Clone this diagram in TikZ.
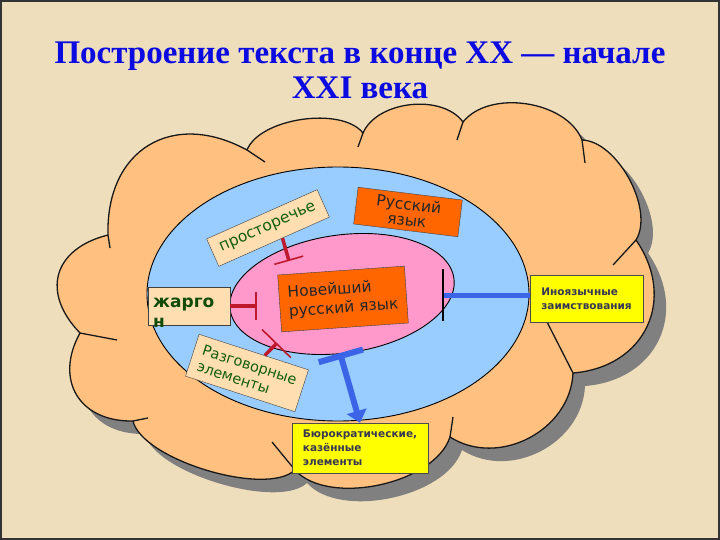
\documentclass[tikz,border=0pt]{standalone}
\usepackage{fontspec}
\setmainfont{DejaVu Sans}
\newfontfamily\titlefont{Liberation Serif}
\usetikzlibrary{shapes.geometric,arrows.meta,calc}
\definecolor{slidebg}{RGB}{239,222,188}
\definecolor{cloudfill}{RGB}{255,192,128}
\definecolor{skyblue}{RGB}{153,204,255}
\definecolor{rosepink}{RGB}{255,153,204}
\definecolor{lexorange}{RGB}{255,102,0}
\definecolor{boxpeach}{RGB}{255,222,178}
\definecolor{boxgreen}{RGB}{20,95,10}
\definecolor{noteyellow}{RGB}{255,255,0}
\definecolor{notetext}{RGB}{55,55,85}
\definecolor{teered}{RGB}{190,25,45}
\definecolor{teeblue}{RGB}{60,100,230}
\definecolor{titleblue}{RGB}{10,10,225}
% outline of the cloud, clockwise from the upper left junction
\newcommand{\cloudpath}{(108,235) to[bend left=60,looseness=1.34] (247,150)
  to[bend left=60,looseness=0.75] (363,133)
  to[bend left=60,looseness=0.9] (463,122)
  to[bend left=60,looseness=0.9] (582,140)
  to[bend left=60,looseness=0.8] (636,240)
  to[bend left=60,looseness=1.26] (573,373)
  to[bend left=60,looseness=1.06] (450,437)
  to[bend left=60,looseness=0.8] (295,470)
  to[bend left=60,looseness=0.6] (133,421)
  to[bend left=60,looseness=1.34] (80,333)
  to[bend left=60,looseness=1.42] (108,235) -- cycle}

\begin{document}
\begin{tikzpicture}[x=1pt,y=-1pt,
    cloudline/.style={line width=1.3pt, black!90},
    softbox/.style={draw=black!75, fill=boxpeach, text=boxgreen, inner sep=2pt},
    orangebox/.style={draw=black!75, fill=lexorange, text=black!85, inner sep=2pt},
    notebox/.style={draw=black!70, fill=noteyellow, text=notetext, align=left,
      font=\bfseries\fontsize{10.5}{14}\selectfont},
    redtee/.style={line width=3.5pt, teered, -{Bar[width=30pt,line width=1.6pt]}},
    bluetee/.style={line width=5pt, teeblue}]
  \useasboundingbox (0,0) rectangle (720,540);
  \fill[slidebg] (0,0) rectangle (720,540);

  % title
  \node[anchor=base, text=titleblue, font=\titlefont\bfseries\fontsize{33}{36}\selectfont] (title) at (360,64) {Построение текста в конце XX — начале};
  \node[anchor=base, text=titleblue, font=\titlefont\bfseries\fontsize{33}{36}\selectfont] (titleend) at (360,99) {XXI века};

  % cloud with its shadow
  \fill[black!50, shift={(12,13)}] \cloudpath;
  \filldraw[fill=cloudfill, draw=black!90, line width=1.3pt] \cloudpath;
  \draw[cloudline] (108,235) -- (110,248);
  \draw[cloudline] (247,150) -- (265,162);
  \draw[cloudline] (363,133) -- (358,147);
  \draw[cloudline] (463,122) -- (457,140);
  \draw[cloudline] (582,140) -- (585,163);
  \draw[cloudline] (636,240) -- (613,265);
  \draw[cloudline] (573,373) -- (545,318);
  \draw[cloudline] (450,437) -- (453,417);
  \draw[cloudline] (295,470) -- (272,442);
  \draw[cloudline] (133,421) -- (148,418);
  \draw[cloudline] (80,333) -- (117,340);

  % the two fields
  \node[ellipse, draw=black, line width=0.9pt, fill=skyblue, inner sep=0pt,
    minimum width=382pt, minimum height=254pt] (outer) at (338,294) {};
  \node[ellipse, draw=black, line width=0.9pt, fill=rosepink, inner sep=0pt,
    minimum width=226pt, minimum height=118pt, rotate=8] (inner) at (342,294) {};

  % boxes
  \node[softbox, rotate=24, minimum width=121pt, minimum height=30pt,
    font=\fontsize{15.5}{18}\selectfont] (prost) at (268,228) {просторечье};
  \node[orangebox, rotate=-7, minimum width=105pt, minimum height=37pt, align=center,
    font=\fontsize{15.5}{16}\selectfont] (russ) at (408,212) {Русский\\язык};
  \node[orangebox, rotate=4, minimum width=127pt, minimum height=57pt, align=left,
    font=\fontsize{15.5}{19}\selectfont] (newest) at (343,299) {Новейший\\русский язык};
  \node[softbox, minimum width=82pt, minimum height=38pt] (jargon) at (189,306) {};
  \node[anchor=base west, inner sep=0pt, align=left, text=boxgreen!80!black,
    font=\bfseries\fontsize{17}{20}\selectfont] (jargonword) at (153,327) {жарго\\н};
  \node[softbox, rotate=-18, minimum width=115pt, minimum height=44pt, align=left,
    font=\fontsize{14.5}{17}\selectfont] (razg) at (247,373) {Разговорные\\элементы};
  \node[notebox, minimum width=113pt, minimum height=47pt] (foreign) at (586.5,298.5) {Иноязычные\\заимствования};
  \node[notebox, minimum width=136pt, minimum height=50pt] (bureau) at (360,448) {Бюрократические,\\казённые\\элементы};

  % connectors
  \coordinate (pTee) at (289,261);
  \coordinate (jTee) at (257,306);
  \coordinate (rTee) at (277,343);
  \coordinate (iTee) at (442,295);
  \coordinate (bTee) at (340,353);
  \draw[redtee] ($(prost.south)!0.15!(prost.south east)$) -- (pTee);
  \draw[redtee, -{Bar[width=28pt,line width=1.6pt]}] (jargon.east) -- (jTee);
  \draw[redtee, -{Bar[width=40pt,line width=1.6pt]}] ($(razg.north)!0.2!(razg.north east)$) -- (rTee);
  \draw[bluetee, -{Bar[width=52pt,line width=1.6pt,color=black]}] (iTee -| foreign.west) -- (iTee);
  \draw[bluetee, line width=6pt, {Bar[width=46pt]}-{Triangle[width=20pt,length=12pt]}] (bTee) -- (bureau.north);

  \draw[line width=2pt, black!80] (1,1) rectangle (719,539);
\end{tikzpicture}
\end{document}
